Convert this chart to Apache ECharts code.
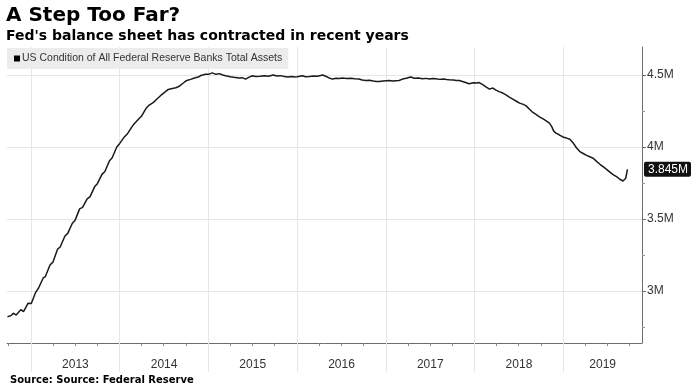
<!DOCTYPE html>
<html>
<head>
<meta charset="utf-8">
<script src="https://cdn.jsdelivr.net/npm/echarts@6/dist/echarts.min.js"></script>
<style>
html,body{margin:0;padding:0;background:#fff;}
#chart{width:691px;height:392px;}
</style>
</head>
<body>
<div id="chart"></div>
<script>
const titleText = 'A Step Too Far?';
const subtitleText = "Fed's balance sheet has contracted in recent years";
const sourceText = 'Source: Source: Federal Reserve';
const seriesName = 'US Condition of All Federal Reserve Banks Total Assets';

// weekly-ish readings, millions of USD
const dates = [
'2012-09-26','2012-10-10','2012-10-20','2012-11-01','2012-11-20','2012-12-01','2012-12-20',
'2013-01-02','2013-01-20','2013-02-01','2013-02-20','2013-03-01','2013-03-20','2013-04-01','2013-04-20',
'2013-05-01','2013-05-20','2013-06-01','2013-06-20','2013-07-01','2013-07-20','2013-08-01','2013-08-20',
'2013-09-01','2013-09-20','2013-10-01','2013-10-20','2013-11-01','2013-11-20','2013-12-01','2013-12-20',
'2014-01-01','2014-01-20','2014-02-01','2014-02-20','2014-03-01','2014-03-20','2014-04-01','2014-04-20',
'2014-05-01','2014-05-20','2014-06-01','2014-06-20','2014-07-01','2014-07-20','2014-08-01','2014-08-20',
'2014-09-01','2014-09-20','2014-10-01','2014-10-20','2014-11-01','2014-11-20','2014-12-01','2014-12-20',
'2015-01-01','2015-01-17','2015-02-01','2015-02-15','2015-03-01','2015-03-13','2015-04-01','2015-04-15',
'2015-05-07','2015-05-20','2015-06-03','2015-06-18','2015-07-01','2015-07-15','2015-08-01','2015-08-19',
'2015-09-05','2015-09-25','2015-10-10','2015-10-25','2015-11-10','2015-11-24','2015-12-10','2015-12-22',
'2016-01-01','2016-01-23','2016-02-05','2016-02-20','2016-03-10','2016-03-25','2016-04-15','2016-04-28',
'2016-05-12','2016-05-26','2016-06-10','2016-06-22','2016-07-06','2016-07-22','2016-08-10','2016-08-25',
'2016-09-12','2016-09-25','2016-10-10','2016-10-25','2016-11-10','2016-11-22','2016-12-04','2016-12-20',
'2017-01-14','2017-01-30','2017-02-10','2017-02-24','2017-03-10','2017-03-25','2017-04-13','2017-04-28',
'2017-05-15','2017-05-31','2017-06-15','2017-06-30','2017-07-12','2017-07-25','2017-08-10','2017-08-25',
'2017-09-08','2017-09-18','2017-10-05','2017-10-18','2017-10-29','2017-11-12','2017-11-25','2017-12-09',
'2017-12-28','2018-01-10','2018-01-20','2018-02-05','2018-02-15','2018-03-03','2018-03-17','2018-03-30',
'2018-04-12','2018-04-27','2018-05-12','2018-05-25','2018-06-07','2018-06-22','2018-07-05','2018-07-18',
'2018-08-01','2018-08-15','2018-08-29','2018-09-12','2018-09-25','2018-10-10','2018-10-24','2018-11-05',
'2018-11-15','2018-11-22','2018-12-02','2018-12-15','2018-12-30','2019-01-14','2019-01-28','2019-02-10',
'2019-02-24','2019-03-10','2019-03-24','2019-04-07','2019-04-20','2019-05-04','2019-05-18','2019-06-01',
'2019-06-14','2019-06-28','2019-07-12','2019-07-25','2019-08-08','2019-08-22','2019-09-04','2019-09-15',
'2019-09-22'
];
const values = [
2.820,2.828,2.845,2.832,2.870,2.856,2.915,
2.912,2.990,3.020,3.090,3.100,3.180,3.200,3.290,
3.305,3.380,3.400,3.470,3.490,3.570,3.580,3.640,
3.655,3.725,3.745,3.810,3.830,3.905,3.925,4.000,
4.025,4.070,4.090,4.140,4.160,4.195,4.215,4.270,
4.290,4.310,4.330,4.360,4.375,4.400,4.405,4.412,
4.420,4.445,4.460,4.470,4.478,4.486,4.497,4.505,
4.505,4.515,4.505,4.510,4.500,4.495,4.488,4.484,
4.479,4.482,4.472,4.486,4.495,4.490,4.492,4.495,
4.492,4.500,4.494,4.496,4.490,4.486,4.490,4.486,
4.488,4.495,4.488,4.490,4.494,4.492,4.500,4.492,
4.480,4.472,4.478,4.476,4.480,4.476,4.478,4.474,
4.472,4.466,4.462,4.464,4.458,4.456,4.455,4.459,
4.462,4.458,4.460,4.462,4.472,4.478,4.486,4.478,
4.480,4.474,4.477,4.472,4.476,4.474,4.470,4.472,
4.469,4.467,4.465,4.463,4.462,4.455,4.448,4.440,
4.446,4.445,4.448,4.432,4.420,4.402,4.410,4.395,
4.385,4.375,4.360,4.345,4.333,4.318,4.305,4.298,
4.286,4.262,4.240,4.225,4.210,4.195,4.180,4.166,
4.140,4.112,4.096,4.085,4.070,4.062,4.054,4.030,
3.995,3.968,3.955,3.942,3.932,3.922,3.900,3.880,
3.864,3.845,3.825,3.808,3.794,3.776,3.764,3.783,
3.845
];

const yLabelValues = [3, 3.5, 4, 4.5];
const yMinorValues = [2.75, 3.25, 3.75, 4.25];
const yearLabels = ['2013','2014','2015','2016','2017','2018','2019'];
const xRangeStart = '2012-09-24';
const xRangeEnd = '2019-11-21';
const yRange = [2.638, 4.695];

const ts = s => { const p = s.split('-').map(Number); return Date.UTC(p[0], p[1]-1, p[2]); };
const xMin = ts(xRangeStart), xMax = ts(xRangeEnd);
const yearStarts = yearLabels.map(y => Date.UTC(+y, 0, 1));
const yearCenters = yearLabels.map(y => {
  const a = Math.max(Date.UTC(+y, 0, 1), xMin);
  const b = Math.min(Date.UTC(+y + 1, 0, 1), xMax);
  return (a + b) / 2;
});
const quarterTicks = [];
for (let y = 2012; y <= 2019; y++) {
  [3, 6, 9].forEach(m => { const t = Date.UTC(y, m, 1); if (t > xMin && t < xMax) quarterTicks.push(t); });
}
const seriesData = dates.map((d, i) => [ts(d), values[i]]);
const lastValue = values[values.length - 1];

const gridColor = '#e6e6e6';
const axisColor = '#6e6e6e';
const txt = '#333';

const chart = echarts.init(document.getElementById('chart'), null, {renderer: 'canvas'});
chart.setOption({
  animation: false,
  backgroundColor: '#fff',
  title: [
    {text: titleText, left: 6, top: 6, padding: 0,
     textStyle: {fontFamily: 'DejaVu Sans', fontWeight: 'bold', fontSize: 20, color: '#000'}},
    {text: subtitleText, left: 6, top: 29, padding: 0,
     textStyle: {fontFamily: 'DejaVu Sans', fontWeight: 'bold', fontSize: 14, color: '#000'}},
    {text: sourceText, left: 10, top: 375, padding: 0,
     textStyle: {fontFamily: 'DejaVu Sans', fontWeight: 'bold', fontSize: 10, color: '#000'}}
  ],
  legend: {
    left: 7, top: 48, padding: [5, 6, 5, 7],
    backgroundColor: '#ececec',
    icon: 'rect', itemWidth: 6, itemHeight: 6, itemGap: 0,
    textStyle: {fontFamily: 'Liberation Sans', fontSize: 10.5, color: txt, padding: [0, 0, 0, -3]},
    data: [seriesName]
  },
  axisPointer: {triggerOn: 'none'},
  grid: {left: 7, right: 49, top: 47, bottom: 49, outerBoundsMode: 'none'},
  xAxis: [
    {
      type: 'value', min: xMin, max: xMax,
      axisLine: {show: true, lineStyle: {color: axisColor, width: 1}},
      axisTick: {show: true, customValues: quarterTicks, length: 3, lineStyle: {color: '#888'}},
      axisLabel: {show: false},
      splitLine: {show: false}
    },
    {
      type: 'value', min: xMin, max: xMax, position: 'bottom',
      axisLine: {show: false},
      axisTick: {show: true, customValues: yearStarts, length: 29, lineStyle: {color: gridColor}},
      axisLabel: {show: true, customValues: yearCenters, margin: 16,
        formatter: v => String(new Date(v).getUTCFullYear()),
        fontFamily: 'Liberation Sans', fontSize: 12, color: txt},
      splitLine: {show: true, lineStyle: {color: gridColor, width: 1}}
    }
  ],
  yAxis: [
    {
      type: 'value', position: 'right', min: yRange[0], max: yRange[1],
      axisLine: {show: true, lineStyle: {color: axisColor, width: 1}},
      axisTick: {show: true, customValues: yLabelValues, length: 4, lineStyle: {color: axisColor}},
      axisLabel: {show: true, customValues: yLabelValues, margin: 5,
        formatter: v => v + 'M', fontFamily: 'Liberation Sans', fontSize: 12, color: txt},
      splitLine: {show: true, lineStyle: {color: gridColor, width: 1}},
      axisPointer: {
        show: true, type: 'none', value: lastValue, status: 'show', snap: false,
        label: {show: true, formatter: p => Number(p.value).toFixed(3) + 'M', margin: 3,
          backgroundColor: '#111', color: '#fff', padding: [2, 3, 1, 4], borderRadius: 2,
          fontFamily: 'Liberation Sans', fontSize: 12}
      }
    },
    {
      type: 'value', position: 'right', min: yRange[0], max: yRange[1],
      axisLine: {show: false},
      axisTick: {show: true, customValues: yMinorValues, length: 3, lineStyle: {color: '#999'}},
      axisLabel: {show: false},
      splitLine: {show: false}
    }
  ],
  series: [{
    name: seriesName, type: 'line', xAxisIndex: 0, yAxisIndex: 0,
    data: seriesData, showSymbol: false, symbol: 'none',
    lineStyle: {color: '#1a1a1a', width: 1.5},
    itemStyle: {color: '#000'}
  }]
});
</script>
</body>
</html>
